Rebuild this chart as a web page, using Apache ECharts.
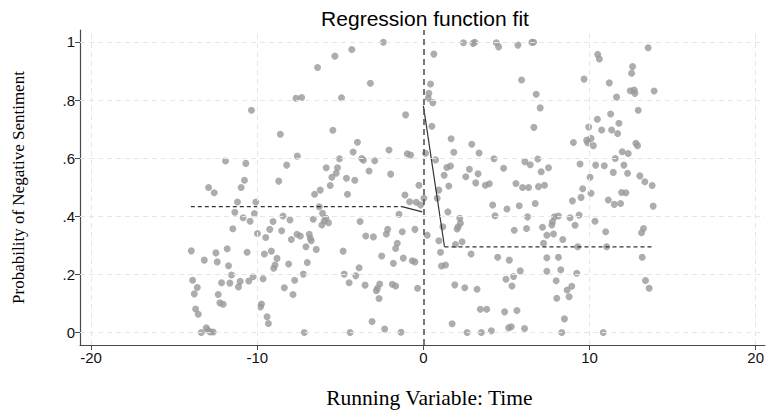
<!DOCTYPE html>
<html><head><meta charset="utf-8">
<script src="https://cdn.jsdelivr.net/npm/echarts@6/dist/echarts.min.js"></script>
<style>html,body{margin:0;padding:0;background:#fff}#c{width:767px;height:414px}</style>
</head><body><div id="c"></div>
<script>
// Scatter data: running variable (time) and probability of negative sentiment
const leftTime = [-7.67,-10.35,-8.61,-7.59,-11.91,-10.69,-8.23,-10.77,-8.71,-12.93,-10.97,-12.59,-11.19,-10.09,-11.35,-10.17,-10.85,-10.43,-11.47,-9.05,-8.45,-8.03,-9.25,-8.53,-9.99,-9.49,-7.95,-7.61,-13.97,-12.49,-11.81,-10.61,-9.57,-9.15,-8.81,-13.19,-12.41,-11.73,-8.93,-9.01,-8.11,-13.89,-11.55,-12.15,-11.65,-11.03,-11.13,-10.51,-10.25,-9.65,-7.75,-13.61,-13.79,-8.37,-7.85,-12.35,-12.25,-12.05,-9.75,-9.81,-13.71,-13.55,-9.41,-9.33,-13.37,-13.07,-12.83,-12.65,-12.97,
-7.33,-2.41,-4.31,-5.33,-6.37,-3.19,-4.93,-1.07,-5.45,-3.97,-4.23,-5.05,-3.71,-3.61,-2.07,-0.97,-0.77,-2.93,-5.85,-5.17,-5.25,-5.51,-3.27,-4.63,-4.13,-1.97,-5.61,-6.21,-0.27,-6.55,-4.57,-1.11,-0.83,-0.43,-0.17,
-6.27,-6.07,-5.87,-5.71,-6.11,-5.97,-6.63,-3.81,-1.47,-7.41,-6.87,-6.81,-6.75,-3.47,-3.01,-2.15,-2.23,-1.27,-0.51,-7.07,-6.45,-4.83,-1.57,-1.67,-2.51,-1.21,-0.67,-0.51,-1.81,-6.99,-7.23,-4.77,-3.87,-4.07,-4.47,-3.51,-2.63,-2.77,-2.83,-1.87,-1.67,-0.35,-2.67,-3.09,-2.33,-7.17,-4.41,-1.35];
const leftProb = [0.806,0.765,0.682,0.607,0.590,0.582,0.576,0.524,0.521,0.499,0.499,0.481,0.449,0.449,0.414,0.409,0.395,0.383,0.357,0.382,0.401,0.387,0.355,0.350,0.341,0.327,0.320,0.338,0.281,0.274,0.288,0.276,0.270,0.280,0.255,0.249,0.243,0.230,0.232,0.221,0.236,0.180,0.198,0.171,0.170,0.176,0.157,0.177,0.192,0.185,0.180,0.155,0.133,0.154,0.131,0.131,0.102,0.097,0.098,0.088,0.081,0.063,0.054,0.031,0.000,0.016,0.002,0.002,0.008,
0.809,0.999,0.974,0.951,0.912,0.858,0.808,0.749,0.696,0.655,0.621,0.598,0.599,0.593,0.628,0.615,0.611,0.591,0.567,0.567,0.548,0.534,0.556,0.531,0.524,0.545,0.506,0.490,0.507,0.476,0.476,0.473,0.450,0.448,0.439,
0.433,0.410,0.393,0.378,0.370,0.384,0.390,0.382,0.407,0.332,0.338,0.324,0.316,0.332,0.329,0.355,0.339,0.347,0.355,0.295,0.286,0.280,0.307,0.289,0.263,0.256,0.247,0.243,0.238,0.241,0.201,0.201,0.223,0.195,0.171,0.163,0.167,0.152,0.144,0.166,0.160,0.152,0.117,0.038,0.012,0.000,0.000,0.001];
const rightTime = [0.13,0.03,2.41,2.99,3.09,4.39,4.53,5.69,6.53,6.63,0.63,0.43,0.33,0.29,0.57,5.91,6.79,7.03,0.51,6.65,1.67,2.91,1.83,3.35,0.73,4.25,6.89,6.11,6.43,4.83,1.41,1.63,2.77,1.25,2.55,3.29,7.09,7.53,3.15,3.73,3.97,5.57,5.97,6.33,6.93,7.29,1.53,0.93,0.83,4.17,5.03,5.77,6.73,1.47,4.31,6.27,2.19,2.23,2.09,2.03,1.17,0.23,5.47,6.21,7.17,7.43,0.93,1.93,2.33,7.23,1.03,2.87,4.47,5.17,7.43,1.09,1.33,5.83,7.43,4.97,5.43,5.33,1.89,2.49,3.23,3.43,3.81,4.89,5.63,1.73,2.63,3.49,4.09,5.13,5.29,6.09,
13.53,10.49,10.59,12.59,12.53,9.67,11.19,12.45,12.69,12.73,13.89,11.63,12.93,11.27,10.47,11.77,9.95,10.73,11.33,11.69,9.03,9.83,10.09,9.89,10.23,12.79,12.89,11.97,12.33,11.55,9.43,10.37,10.89,12.07,11.43,12.29,10.03,13.03,13.33,13.77,9.59,10.09,9.49,8.97,11.13,11.49,11.87,11.93,12.19,13.83,7.89,8.13,7.77,7.73,8.83,9.37,9.13,10.33,7.83,8.39,10.97,9.29,11.03,13.25,13.13,13.17,8.13,8.27,9.23,7.99,8.93,8.65,8.77,8.03,13.37,13.59,8.49,8.33,10.83];
const rightProb = [0.617,0.462,0.997,0.995,0.999,0.997,0.983,0.989,0.999,0.999,0.958,0.855,0.823,0.806,0.791,0.869,0.820,0.773,0.710,0.706,0.667,0.648,0.620,0.618,0.594,0.598,0.597,0.588,0.577,0.565,0.568,0.573,0.562,0.541,0.536,0.546,0.553,0.567,0.515,0.507,0.512,0.513,0.499,0.499,0.502,0.507,0.504,0.490,0.462,0.439,0.425,0.436,0.444,0.415,0.402,0.398,0.393,0.376,0.364,0.356,0.364,0.335,0.352,0.358,0.362,0.335,0.316,0.303,0.312,0.307,0.276,0.270,0.259,0.249,0.257,0.229,0.232,0.212,0.211,0.183,0.193,0.160,0.164,0.154,0.149,0.080,0.080,0.071,0.076,0.030,0.000,0.000,0.006,0.016,0.020,0.014,
0.980,0.957,0.941,0.915,0.892,0.872,0.859,0.832,0.834,0.823,0.831,0.810,0.765,0.752,0.734,0.720,0.707,0.697,0.697,0.685,0.654,0.662,0.668,0.653,0.643,0.651,0.643,0.622,0.616,0.599,0.580,0.576,0.574,0.576,0.551,0.548,0.534,0.539,0.519,0.506,0.495,0.479,0.465,0.453,0.456,0.441,0.444,0.482,0.481,0.435,0.398,0.401,0.381,0.370,0.395,0.404,0.369,0.383,0.339,0.320,0.347,0.295,0.295,0.358,0.343,0.259,0.259,0.216,0.204,0.178,0.159,0.146,0.123,0.118,0.179,0.152,0.047,0.000,0.000];

// Regression fit (left and right of cutoff)
const leftFitTime = [-14.0, -1.29, -0.07];
const leftFitProb = [0.433, 0.433, 0.415];
const rightFitTime = [0.0, 1.27, 13.77];
const rightFitProb = [0.78, 0.295, 0.295];

const cutoff = 0;
const xTicks = [-20, -10, 0, 10, 20];
const xGrid = [-20, -10, 10, 20];
const yTicks = [0, 0.2, 0.4, 0.6, 0.8, 1];
const yTickLabels = ['0', '.2', '.4', '.6', '.8', '1'];

const zip = (a, b) => a.map((v, i) => [v, b[i]]);
const seg = (a, b, i, j) => [[a[i], b[i]], [a[j], b[j]]];

const chart = echarts.init(document.getElementById('c'), null, {renderer: 'svg'});
const fitStyle = (dashed) => ({color: '#333', width: 1.2, type: dashed ? [4, 3] : 'solid'});
const sans = '"Liberation Sans", Arial, sans-serif';
const serif = '"Liberation Serif", "Times New Roman", serif';
chart.setOption({
  backgroundColor: '#fff',
  animation: false,
  graphic: [{
    type: 'text', x: 425, y: 18,
    style: {text: 'Regression function fit', font: '21px ' + sans, fill: '#000', align: 'center', verticalAlign: 'middle'}
  }],
  grid: {left: 80, right: 0, top: 30, bottom: 69},
  xAxis: {
    type: 'value', min: -20.67, max: 20.55,
    name: 'Running Variable: Time', nameLocation: 'middle', nameGap: 42,
    nameTextStyle: {fontFamily: serif, fontSize: 21.5, color: '#000', padding: [0, 0, 0, 14]},
    axisLine: {onZero: false, lineStyle: {color: '#4a4a4a', width: 1.2}},
    axisTick: {show: true, length: 5, lineStyle: {color: '#4a4a4a'}, customValues: xTicks},
    axisLabel: {customValues: xTicks, margin: 5, color: '#111', fontSize: 15, fontFamily: sans},
    splitLine: {show: false}
  },
  yAxis: {
    type: 'value', min: -0.043, max: 1.041,
    name: 'Probability of Negative Sentiment', nameLocation: 'middle', nameGap: 53,
    nameTextStyle: {fontFamily: serif, fontSize: 17, color: '#000'},
    axisLine: {show: true, onZero: false, lineStyle: {color: '#4a4a4a', width: 1.2}},
    axisTick: {show: true, length: 5, lineStyle: {color: '#4a4a4a'}, customValues: yTicks},
    axisLabel: {customValues: yTicks, margin: 5, color: '#111', fontSize: 15, fontFamily: sans,
      formatter: (v) => { const i = yTicks.findIndex(t => Math.abs(t - v) < 1e-9); return i >= 0 ? yTickLabels[i] : ''; }},
    splitLine: {show: false}
  },
  series: [
    {
      type: 'scatter', data: [], z: 1, silent: true,
      markLine: {
        silent: true, symbol: 'none', label: {show: false},
        lineStyle: {color: '#e6e6e6', type: [5, 4], width: 1},
        data: yTicks.map(v => ({yAxis: v})).concat(xGrid.map(v => ({xAxis: v})))
      }
    },
    {type: 'scatter', data: zip(leftTime, leftProb), symbolSize: 7, itemStyle: {color: '#999999'}, z: 2, silent: true},
    {type: 'scatter', data: zip(rightTime, rightProb), symbolSize: 7, itemStyle: {color: '#999999'}, z: 2, silent: true},
    {type: 'line', data: seg(leftFitTime, leftFitProb, 0, 1), symbol: 'none', lineStyle: fitStyle(true), z: 3, silent: true},
    {type: 'line', data: seg(leftFitTime, leftFitProb, 1, 2), symbol: 'none', lineStyle: fitStyle(false), z: 3, silent: true},
    {type: 'line', data: seg(rightFitTime, rightFitProb, 0, 1), symbol: 'none', lineStyle: fitStyle(false), z: 3, silent: true},
    {type: 'line', data: seg(rightFitTime, rightFitProb, 1, 2), symbol: 'none', lineStyle: fitStyle(true), z: 3, silent: true},
    {
      type: 'scatter', data: [], z: 4, silent: true,
      markLine: {
        silent: true, symbol: 'none', label: {show: false},
        lineStyle: {color: '#555', type: [6, 4], width: 1.6},
        data: [{xAxis: cutoff}]
      }
    }
  ]
});
</script></body></html>
